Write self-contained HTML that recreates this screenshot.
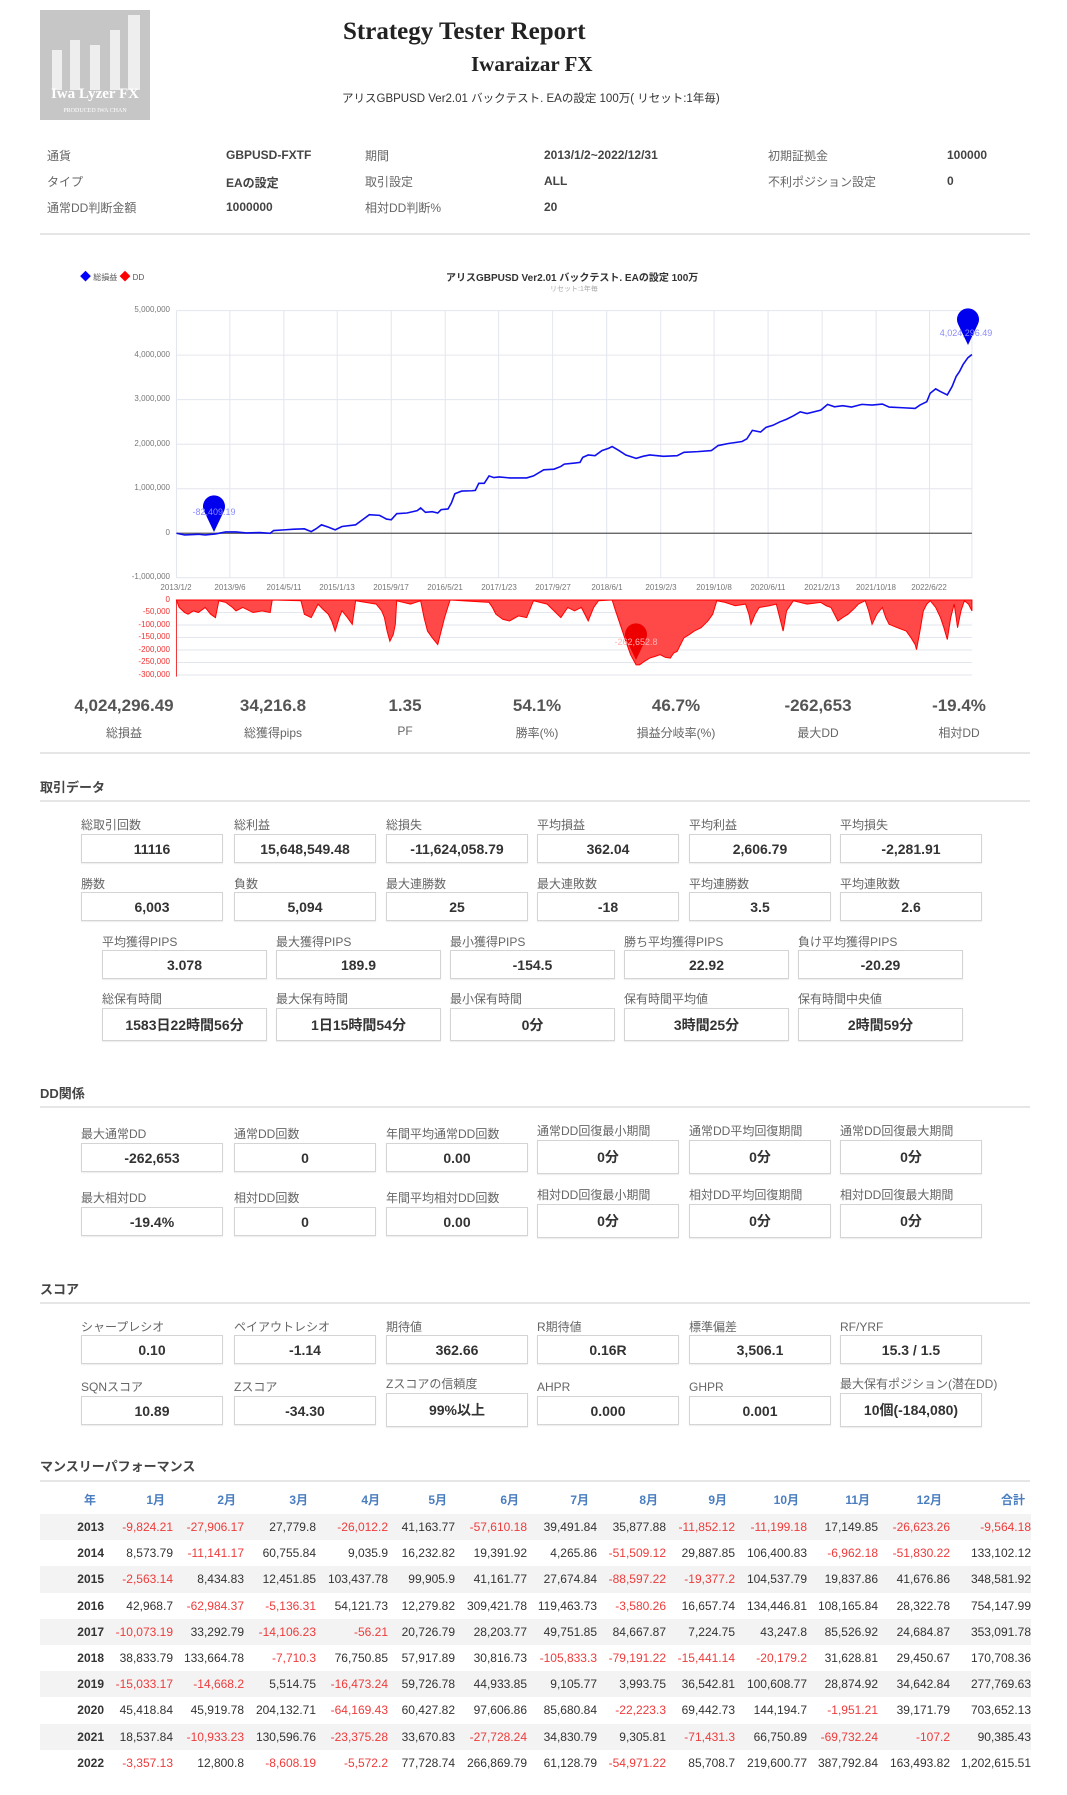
<!DOCTYPE html>
<html><head><meta charset="utf-8">
<style>
*{margin:0;padding:0;box-sizing:border-box}
body{width:1067px;height:1795px;background:#fff;position:relative;font-family:"Liberation Sans","Noto Sans CJK JP",sans-serif;color:#555;overflow:hidden}
.a{position:absolute;white-space:nowrap}
.l{position:absolute;font-size:12px;color:#666;white-space:nowrap}
.v{position:absolute;font-size:12px;font-weight:bold;color:#444;white-space:nowrap}
.hr{position:absolute;left:40px;width:990px;height:2px;background:#e6e6e6}
.h{position:absolute;left:40px;font-size:13px;font-weight:bold;color:#444}
.b{position:absolute;border:1px solid #d4d4d4;box-shadow:0 1px 1px rgba(0,0,0,.08);text-align:center;font-weight:bold;font-size:14px;color:#333;display:flex;align-items:center;justify-content:center}
.s{position:absolute;width:140px;text-align:center}
.s .n{font-size:17px;font-weight:bold;color:#555}
.s .t{font-size:12px;color:#666;margin-top:8px}
.yl{position:absolute;font-size:8px;color:#777;text-align:right;width:60px}
.xl{position:absolute;font-size:8px;color:#777;width:60px;text-align:center}
.dl{position:absolute;font-size:8px;color:#e33;text-align:right;width:60px}
table{position:absolute;left:40px;top:1485px;width:991px;border-collapse:collapse;table-layout:fixed;font-size:12px}
td{text-align:right;height:26.2px;padding:0;color:#333}
th{text-align:right;padding-right:8px;color:#4a7ec0;font-weight:bold;font-size:12px;height:29px}
tbody tr:nth-child(odd){background:#f3f3f3}
td:first-child{font-weight:bold;color:#333}
.r{color:#ee3b3b}
</style></head><body>

<!-- logo -->
<svg class="a" style="left:40px;top:10px" width="110" height="110" viewBox="0 0 110 110">
<rect width="110" height="110" fill="#c6c6c6"/>
<g fill="#eee"><rect x="12" y="40" width="10" height="40"/><rect x="30" y="30" width="10" height="50"/><rect x="50" y="35" width="10" height="45"/><rect x="70" y="20" width="10" height="60"/><rect x="88" y="5" width="12" height="75"/></g>
<text x="55" y="88" fill="#fff" font-family="Liberation Serif,serif" font-size="15" font-weight="bold" text-anchor="middle">Iwa Lyzer FX</text>
<text x="55" y="102" fill="#fff" font-family="Liberation Serif,serif" font-size="6" text-anchor="middle">PRODUCED   IWA CHAN</text>
</svg>

<div class="a" style="left:343px;top:18px;font-family:'Liberation Serif',serif;font-weight:bold;font-size:25px;color:#222">Strategy Tester Report</div>
<div class="a" style="left:471px;top:52px;font-family:'Liberation Serif',serif;font-weight:bold;font-size:21px;color:#222">Iwaraizar FX</div>
<div class="a" style="left:342px;top:90px;font-size:11.5px;color:#333">アリスGBPUSD Ver2.01 バックテスト. EAの設定 100万( リセット:1年毎)</div>

<div class="l" style="left:47px;top:147px">通貨</div><div class="v" style="left:226px;top:148px">GBPUSD-FXTF</div>
<div class="l" style="left:365px;top:147px">期間</div><div class="v" style="left:544px;top:148px">2013/1/2~2022/12/31</div>
<div class="l" style="left:768px;top:147px">初期証拠金</div><div class="v" style="left:947px;top:148px">100000</div>
<div class="l" style="left:47px;top:173px">タイプ</div><div class="v" style="left:226px;top:174px">EAの設定</div>
<div class="l" style="left:365px;top:173px">取引設定</div><div class="v" style="left:544px;top:174px">ALL</div>
<div class="l" style="left:768px;top:173px">不利ポジション設定</div><div class="v" style="left:947px;top:174px">0</div>
<div class="l" style="left:47px;top:199px">通常DD判断金額</div><div class="v" style="left:226px;top:200px">1000000</div>
<div class="l" style="left:365px;top:199px">相対DD判断%</div><div class="v" style="left:544px;top:200px">20</div>
<div class="hr" style="top:233px"></div>

<!-- chart -->
<div class="a" style="left:80px;top:268px;font-size:8px;color:#555"><span style="color:#00f;font-size:11px">◆</span> 総損益 <span style="color:#f00;font-size:11px">◆</span> DD</div>
<div class="a" style="left:446px;top:269px;font-size:10px;font-weight:bold;color:#333">アリスGBPUSD Ver2.01 バックテスト. EAの設定 100万</div>
<div class="a" style="left:550px;top:284px;font-size:7px;color:#aaa">リセット:1年毎</div>

<svg class="a" style="left:0;top:260px" width="1067" height="420" viewBox="0 0 1560 1245" preserveAspectRatio="none">
<g stroke="#e3e6ee" stroke-width="1" vector-effect="non-scaling-stroke" fill="none">
<path vector-effect="non-scaling-stroke" d="M258 150H1421M258 282H1421M258 414H1421M258 546H1421M258 678H1421M258 942H1421"/>
<path vector-effect="non-scaling-stroke" d="M336 150V942M415 150V942M493 150V942M572 150V942M651 150V942M729 150V942M808 150V942M887 150V942M966 150V942M1044 150V942M1123 150V942M1202 150V942M1281 150V942M1359 150V942M1421 150V942M258 150V942"/>
<path vector-effect="non-scaling-stroke" d="M258 1045H1421M258 1082H1421M258 1119H1421M258 1156H1421M258 1193H1421M258 1230H1421"/>
</g>
<path vector-effect="non-scaling-stroke" d="M258 810H1421" stroke="#555" stroke-width="1.2" fill="none"/>
<path vector-effect="non-scaling-stroke" d="M258 1008V1235" stroke="#e33" stroke-width="1" fill="none"/>
<path vector-effect="non-scaling-stroke" fill="none" stroke="#1010ee" stroke-width="1.6" d="M258 810L270 815L290 813L300 815L315 812L330 806L345 806L360 809L380 808L395 810L400 802L415 800L430 798L445 797L455 805L462 797L470 785L480 792L490 800L500 790L520 785L530 770L540 755L555 757L565 768L572 770L580 752L595 750L610 743L615 735L622 748L632 746L640 750L645 740L655 738L660 720L665 693L675 685L690 684L695 683L700 662L708 662L715 640L722 645L730 643L745 646L770 646L780 640L795 622L810 620L820 612L825 605L840 602L848 600L852 585L860 578L870 580L880 565L890 558L895 553L905 565L915 578L930 588L940 582L950 578L970 582L990 580L1000 570L1020 568L1040 565L1050 550L1065 544L1085 538L1092 530L1100 505L1112 510L1120 496L1130 490L1140 480L1150 472L1160 462L1170 450L1180 455L1200 445L1210 428L1220 435L1232 432L1245 436L1260 428L1275 430L1290 427L1300 436L1320 438L1338 440L1345 430L1355 420L1360 395L1368 382L1375 390L1385 400L1392 375L1398 345L1403 330L1408 310L1415 290L1421 280"/>
<path fill="#ff4848" stroke="#f00" stroke-width="1" vector-effect="non-scaling-stroke" d="M258 1008L262 1030L270 1045L275 1050L283 1040L290 1045L300 1030L308 1050L315 1060L320 1010L330 1015L340 1030L345 1040L355 1030L370 1045L383 1040L395 1045L398 1008L440 1010L445 1050L455 1060L465 1020L472 1035L480 1050L485 1070L490 1100L496 1060L500 1040L508 1060L515 1080L520 1010L550 1020L558 1040L562 1060L566 1100L570 1130L575 1110L578 1080L580 1010L600 1020L615 1010L620 1060L625 1100L632 1120L640 1140L645 1100L650 1060L658 1008L715 1015L720 1030L725 1050L735 1065L745 1070L758 1055L770 1060L780 1010L800 1020L810 1040L820 1060L830 1030L840 1040L850 1030L860 1070L868 1030L875 1010L895 1008L900 1040L905 1070L910 1100L915 1130L922 1170L930 1200L935 1200L942 1190L950 1180L958 1175L965 1170L973 1178L980 1180L985 1165L990 1160L995 1140L1000 1120L1008 1110L1015 1100L1025 1090L1035 1070L1042 1050L1048 1010L1060 1015L1075 1025L1090 1020L1095 1050L1098 1080L1104 1050L1110 1030L1125 1025L1135 1020L1140 1060L1145 1100L1150 1040L1160 1010L1180 1020L1200 1015L1208 1025L1215 1030L1220 1050L1225 1070L1232 1060L1240 1050L1248 1035L1255 1020L1265 1010L1270 1040L1275 1080L1282 1050L1290 1030L1295 1060L1300 1080L1312 1090L1325 1100L1332 1120L1338 1140L1340 1155L1345 1100L1350 1040L1355 1020L1360 1010L1368 1030L1375 1060L1380 1090L1385 1125L1390 1060L1395 1020L1398 1060L1400 1090L1405 1040L1410 1010L1416 1020L1421 1040L1421 1008Z"/>
</svg>
<!-- markers -->
<svg class="a" style="left:0;top:0" width="1067" height="700">
<path d="M214 532 L204 511 A11 11 0 1 1 224 511 Z" fill="#0000ee"/>
<path d="M968 345 L958 324 A11 11 0 1 1 978 324 Z" fill="#0000ee"/>
<path d="M636 660 L626 639 A11 11 0 1 1 646 639 Z" fill="#ee0000"/>
<text x="214" y="515" font-size="9" fill="#8a8aff" text-anchor="middle" font-family="Liberation Sans,sans-serif">-82,409.19</text>
<text x="966" y="336" font-size="9" fill="#8a8aff" text-anchor="middle" font-family="Liberation Sans,sans-serif">4,024,296.49</text>
<text x="636" y="645" font-size="9" fill="#ffb0b0" text-anchor="middle" font-family="Liberation Sans,sans-serif">-262,652.8</text>
</svg>
<div class="yl" style="left:110px;top:305px">5,000,000</div>
<div class="yl" style="left:110px;top:350px">4,000,000</div>
<div class="yl" style="left:110px;top:394px">3,000,000</div>
<div class="yl" style="left:110px;top:439px">2,000,000</div>
<div class="yl" style="left:110px;top:483px">1,000,000</div>
<div class="yl" style="left:110px;top:528px">0</div>
<div class="yl" style="left:110px;top:572px">-1,000,000</div>
<div class="xl" style="left:146px;top:583px">2013/1/2</div>
<div class="xl" style="left:200px;top:583px">2013/9/6</div>
<div class="xl" style="left:254px;top:583px">2014/5/11</div>
<div class="xl" style="left:307px;top:583px">2015/1/13</div>
<div class="xl" style="left:361px;top:583px">2015/9/17</div>
<div class="xl" style="left:415px;top:583px">2016/5/21</div>
<div class="xl" style="left:469px;top:583px">2017/1/23</div>
<div class="xl" style="left:523px;top:583px">2017/9/27</div>
<div class="xl" style="left:577px;top:583px">2018/6/1</div>
<div class="xl" style="left:631px;top:583px">2019/2/3</div>
<div class="xl" style="left:684px;top:583px">2019/10/8</div>
<div class="xl" style="left:738px;top:583px">2020/6/11</div>
<div class="xl" style="left:792px;top:583px">2021/2/13</div>
<div class="xl" style="left:846px;top:583px">2021/10/18</div>
<div class="xl" style="left:899px;top:583px">2022/6/22</div>
<div class="dl" style="left:110px;top:595px">0</div>
<div class="dl" style="left:110px;top:607px">-50,000</div>
<div class="dl" style="left:110px;top:620px">-100,000</div>
<div class="dl" style="left:110px;top:632px">-150,000</div>
<div class="dl" style="left:110px;top:645px">-200,000</div>
<div class="dl" style="left:110px;top:657px">-250,000</div>
<div class="dl" style="left:110px;top:670px">-300,000</div>

<!-- stats -->
<div class="s" style="left:54px;top:696px"><div class="n">4,024,296.49</div><div class="t">総損益</div></div>
<div class="s" style="left:203px;top:696px"><div class="n">34,216.8</div><div class="t">総獲得pips</div></div>
<div class="s" style="left:335px;top:696px"><div class="n">1.35</div><div class="t">PF</div></div>
<div class="s" style="left:467px;top:696px"><div class="n">54.1%</div><div class="t">勝率(%)</div></div>
<div class="s" style="left:606px;top:696px"><div class="n">46.7%</div><div class="t">損益分岐率(%)</div></div>
<div class="s" style="left:748px;top:696px"><div class="n">-262,653</div><div class="t">最大DD</div></div>
<div class="s" style="left:889px;top:696px"><div class="n">-19.4%</div><div class="t">相対DD</div></div>
<div class="hr" style="top:752px"></div>

<div class="h" style="top:777px">取引データ</div>
<div class="hr" style="top:800px"></div>
<div class="l" style="left:81px;top:816px">総取引回数</div><div class="b" style="left:81px;top:834px;width:142px;height:29px">11116</div>
<div class="l" style="left:234px;top:816px">総利益</div><div class="b" style="left:234px;top:834px;width:142px;height:29px">15,648,549.48</div>
<div class="l" style="left:386px;top:816px">総損失</div><div class="b" style="left:386px;top:834px;width:142px;height:29px">-11,624,058.79</div>
<div class="l" style="left:537px;top:816px">平均損益</div><div class="b" style="left:537px;top:834px;width:142px;height:29px">362.04</div>
<div class="l" style="left:689px;top:816px">平均利益</div><div class="b" style="left:689px;top:834px;width:142px;height:29px">2,606.79</div>
<div class="l" style="left:840px;top:816px">平均損失</div><div class="b" style="left:840px;top:834px;width:142px;height:29px">-2,281.91</div>
<div class="l" style="left:81px;top:875px">勝数</div><div class="b" style="left:81px;top:892px;width:142px;height:29px">6,003</div>
<div class="l" style="left:234px;top:875px">負数</div><div class="b" style="left:234px;top:892px;width:142px;height:29px">5,094</div>
<div class="l" style="left:386px;top:875px">最大連勝数</div><div class="b" style="left:386px;top:892px;width:142px;height:29px">25</div>
<div class="l" style="left:537px;top:875px">最大連敗数</div><div class="b" style="left:537px;top:892px;width:142px;height:29px">-18</div>
<div class="l" style="left:689px;top:875px">平均連勝数</div><div class="b" style="left:689px;top:892px;width:142px;height:29px">3.5</div>
<div class="l" style="left:840px;top:875px">平均連敗数</div><div class="b" style="left:840px;top:892px;width:142px;height:29px">2.6</div>
<div class="l" style="left:102px;top:933px">平均獲得PIPS</div><div class="b" style="left:102px;top:950px;width:165px;height:29px">3.078</div>
<div class="l" style="left:276px;top:933px">最大獲得PIPS</div><div class="b" style="left:276px;top:950px;width:165px;height:29px">189.9</div>
<div class="l" style="left:450px;top:933px">最小獲得PIPS</div><div class="b" style="left:450px;top:950px;width:165px;height:29px">-154.5</div>
<div class="l" style="left:624px;top:933px">勝ち平均獲得PIPS</div><div class="b" style="left:624px;top:950px;width:165px;height:29px">22.92</div>
<div class="l" style="left:798px;top:933px">負け平均獲得PIPS</div><div class="b" style="left:798px;top:950px;width:165px;height:29px">-20.29</div>
<div class="l" style="left:102px;top:990px">総保有時間</div><div class="b" style="left:102px;top:1008px;width:165px;height:33px">1583日22時間56分</div>
<div class="l" style="left:276px;top:990px">最大保有時間</div><div class="b" style="left:276px;top:1008px;width:165px;height:33px">1日15時間54分</div>
<div class="l" style="left:450px;top:990px">最小保有時間</div><div class="b" style="left:450px;top:1008px;width:165px;height:33px">0分</div>
<div class="l" style="left:624px;top:990px">保有時間平均値</div><div class="b" style="left:624px;top:1008px;width:165px;height:33px">3時間25分</div>
<div class="l" style="left:798px;top:990px">保有時間中央値</div><div class="b" style="left:798px;top:1008px;width:165px;height:33px">2時間59分</div>

<div class="h" style="top:1083px">DD関係</div>
<div class="hr" style="top:1106px"></div>
<div class="l" style="left:81px;top:1125px">最大通常DD</div><div class="b" style="left:81px;top:1143px;width:142px;height:29px">-262,653</div>
<div class="l" style="left:234px;top:1125px">通常DD回数</div><div class="b" style="left:234px;top:1143px;width:142px;height:29px">0</div>
<div class="l" style="left:386px;top:1125px">年間平均通常DD回数</div><div class="b" style="left:386px;top:1143px;width:142px;height:29px">0.00</div>
<div class="l" style="left:537px;top:1122px">通常DD回復最小期間</div><div class="b" style="left:537px;top:1140px;width:142px;height:34px">0分</div>
<div class="l" style="left:689px;top:1122px">通常DD平均回復期間</div><div class="b" style="left:689px;top:1140px;width:142px;height:34px">0分</div>
<div class="l" style="left:840px;top:1122px">通常DD回復最大期間</div><div class="b" style="left:840px;top:1140px;width:142px;height:34px">0分</div>
<div class="l" style="left:81px;top:1189px">最大相対DD</div><div class="b" style="left:81px;top:1207px;width:142px;height:29px">-19.4%</div>
<div class="l" style="left:234px;top:1189px">相対DD回数</div><div class="b" style="left:234px;top:1207px;width:142px;height:29px">0</div>
<div class="l" style="left:386px;top:1189px">年間平均相対DD回数</div><div class="b" style="left:386px;top:1207px;width:142px;height:29px">0.00</div>
<div class="l" style="left:537px;top:1186px">相対DD回復最小期間</div><div class="b" style="left:537px;top:1204px;width:142px;height:34px">0分</div>
<div class="l" style="left:689px;top:1186px">相対DD平均回復期間</div><div class="b" style="left:689px;top:1204px;width:142px;height:34px">0分</div>
<div class="l" style="left:840px;top:1186px">相対DD回復最大期間</div><div class="b" style="left:840px;top:1204px;width:142px;height:34px">0分</div>

<div class="h" style="top:1279px">スコア</div>
<div class="hr" style="top:1302px"></div>
<div class="l" style="left:81px;top:1318px">シャープレシオ</div><div class="b" style="left:81px;top:1335px;width:142px;height:29px">0.10</div>
<div class="l" style="left:234px;top:1318px">ペイアウトレシオ</div><div class="b" style="left:234px;top:1335px;width:142px;height:29px">-1.14</div>
<div class="l" style="left:386px;top:1318px">期待値</div><div class="b" style="left:386px;top:1335px;width:142px;height:29px">362.66</div>
<div class="l" style="left:537px;top:1318px">R期待値</div><div class="b" style="left:537px;top:1335px;width:142px;height:29px">0.16R</div>
<div class="l" style="left:689px;top:1318px">標準偏差</div><div class="b" style="left:689px;top:1335px;width:142px;height:29px">3,506.1</div>
<div class="l" style="left:840px;top:1320px">RF/YRF</div><div class="b" style="left:840px;top:1335px;width:142px;height:29px">15.3 / 1.5</div>
<div class="l" style="left:81px;top:1378px">SQNスコア</div><div class="b" style="left:81px;top:1396px;width:142px;height:29px">10.89</div>
<div class="l" style="left:234px;top:1378px">Zスコア</div><div class="b" style="left:234px;top:1396px;width:142px;height:29px">-34.30</div>
<div class="l" style="left:386px;top:1375px">Zスコアの信頼度</div><div class="b" style="left:386px;top:1393px;width:142px;height:34px">99%以上</div>
<div class="l" style="left:537px;top:1380px">AHPR</div><div class="b" style="left:537px;top:1396px;width:142px;height:29px">0.000</div>
<div class="l" style="left:689px;top:1380px">GHPR</div><div class="b" style="left:689px;top:1396px;width:142px;height:29px">0.001</div>
<div class="l" style="left:840px;top:1375px">最大保有ポジション(潜在DD)</div><div class="b" style="left:840px;top:1393px;width:142px;height:34px">10個(-184,080)</div>

<div class="h" style="top:1456px">マンスリーパフォーマンス</div>
<div class="hr" style="top:1480px"></div>
<table>
<colgroup><col style="width:64px"><col style="width:69px"><col style="width:71px"><col style="width:72px"><col style="width:72px"><col style="width:67px"><col style="width:72px"><col style="width:70px"><col style="width:69px"><col style="width:69px"><col style="width:72px"><col style="width:71px"><col style="width:72px"><col style="width:81px"></colgroup>
<thead><tr><th style="padding-right:8px;text-align:right">年</th><th>1月</th><th>2月</th><th>3月</th><th>4月</th><th>5月</th><th>6月</th><th>7月</th><th>8月</th><th>9月</th><th>10月</th><th>11月</th><th>12月</th><th style="padding-right:6px">合計</th></tr></thead>
<tbody>
<tr><td>2013</td><td class="r">-9,824.21</td><td class="r">-27,906.17</td><td>27,779.8</td><td class="r">-26,012.2</td><td>41,163.77</td><td class="r">-57,610.18</td><td>39,491.84</td><td>35,877.88</td><td class="r">-11,852.12</td><td class="r">-11,199.18</td><td>17,149.85</td><td class="r">-26,623.26</td><td class="r">-9,564.18</td></tr>
<tr><td>2014</td><td>8,573.79</td><td class="r">-11,141.17</td><td>60,755.84</td><td>9,035.9</td><td>16,232.82</td><td>19,391.92</td><td>4,265.86</td><td class="r">-51,509.12</td><td>29,887.85</td><td>106,400.83</td><td class="r">-6,962.18</td><td class="r">-51,830.22</td><td>133,102.12</td></tr>
<tr><td>2015</td><td class="r">-2,563.14</td><td>8,434.83</td><td>12,451.85</td><td>103,437.78</td><td>99,905.9</td><td>41,161.77</td><td>27,674.84</td><td class="r">-88,597.22</td><td class="r">-19,377.2</td><td>104,537.79</td><td>19,837.86</td><td>41,676.86</td><td>348,581.92</td></tr>
<tr><td>2016</td><td>42,968.7</td><td class="r">-62,984.37</td><td class="r">-5,136.31</td><td>54,121.73</td><td>12,279.82</td><td>309,421.78</td><td>119,463.73</td><td class="r">-3,580.26</td><td>16,657.74</td><td>134,446.81</td><td>108,165.84</td><td>28,322.78</td><td>754,147.99</td></tr>
<tr><td>2017</td><td class="r">-10,073.19</td><td>33,292.79</td><td class="r">-14,106.23</td><td class="r">-56.21</td><td>20,726.79</td><td>28,203.77</td><td>49,751.85</td><td>84,667.87</td><td>7,224.75</td><td>43,247.8</td><td>85,526.92</td><td>24,684.87</td><td>353,091.78</td></tr>
<tr><td>2018</td><td>38,833.79</td><td>133,664.78</td><td class="r">-7,710.3</td><td>76,750.85</td><td>57,917.89</td><td>30,816.73</td><td class="r">-105,833.3</td><td class="r">-79,191.22</td><td class="r">-15,441.14</td><td class="r">-20,179.2</td><td>31,628.81</td><td>29,450.67</td><td>170,708.36</td></tr>
<tr><td>2019</td><td class="r">-15,033.17</td><td class="r">-14,668.2</td><td>5,514.75</td><td class="r">-16,473.24</td><td>59,726.78</td><td>44,933.85</td><td>9,105.77</td><td>3,993.75</td><td>36,542.81</td><td>100,608.77</td><td>28,874.92</td><td>34,642.84</td><td>277,769.63</td></tr>
<tr><td>2020</td><td>45,418.84</td><td>45,919.78</td><td>204,132.71</td><td class="r">-64,169.43</td><td>60,427.82</td><td>97,606.86</td><td>85,680.84</td><td class="r">-22,223.3</td><td>69,442.73</td><td>144,194.7</td><td class="r">-1,951.21</td><td>39,171.79</td><td>703,652.13</td></tr>
<tr><td>2021</td><td>18,537.84</td><td class="r">-10,933.23</td><td>130,596.76</td><td class="r">-23,375.28</td><td>33,670.83</td><td class="r">-27,728.24</td><td>34,830.79</td><td>9,305.81</td><td class="r">-71,431.3</td><td>66,750.89</td><td class="r">-69,732.24</td><td class="r">-107.2</td><td>90,385.43</td></tr>
<tr><td>2022</td><td class="r">-3,357.13</td><td>12,800.8</td><td class="r">-8,608.19</td><td class="r">-5,572.2</td><td>77,728.74</td><td>266,869.79</td><td>61,128.79</td><td class="r">-54,971.22</td><td>85,708.7</td><td>219,600.77</td><td>387,792.84</td><td>163,493.82</td><td>1,202,615.51</td></tr>
</tbody></table>
</body></html>
